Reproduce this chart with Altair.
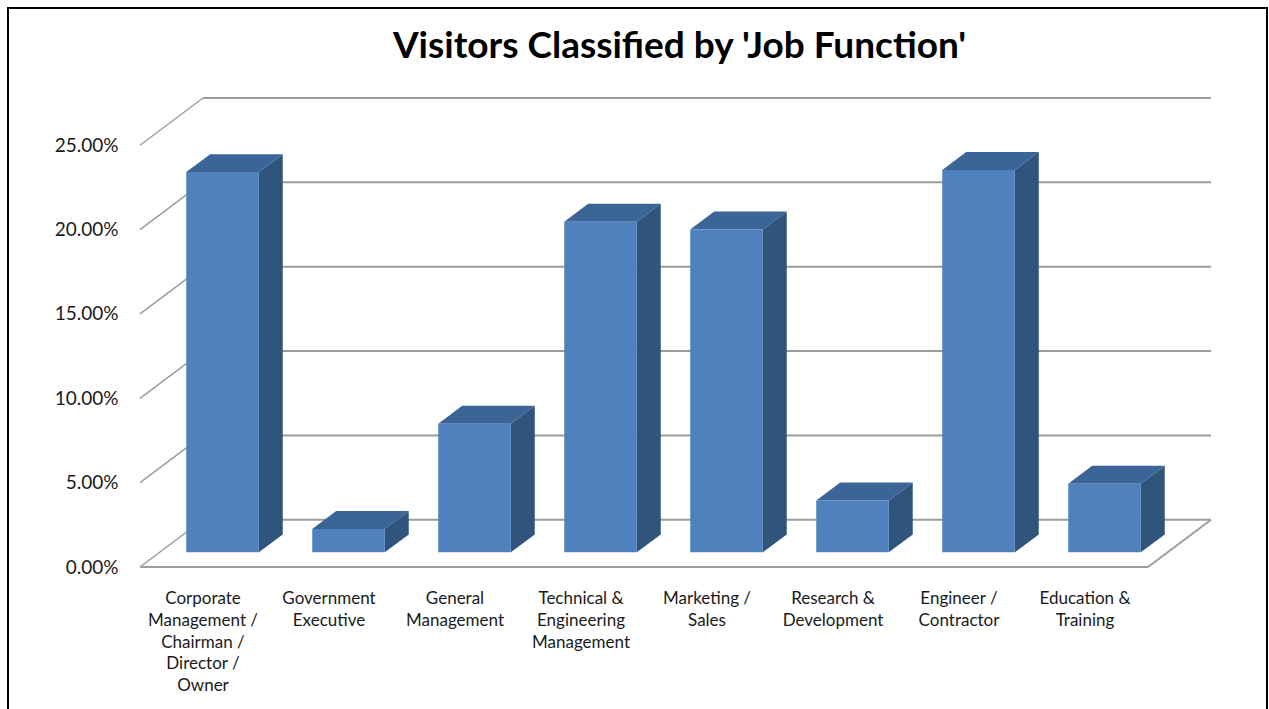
import altair as alt
import pandas as pd

# ---- data ----
categories = [
    "Corporate\nManagement /\nChairman /\nDirector /\nOwner",
    "Government\nExecutive",
    "General\nManagement",
    "Technical &\nEngineering\nManagement",
    "Marketing /\nSales",
    "Research &\nDevelopment",
    "Engineer /\nContractor",
    "Education &\nTraining",
]
shares = [22.54, 1.39, 7.62, 19.60, 19.14, 3.08, 22.66, 4.07]  # percent
tick_values = [0, 5, 10, 15, 20, 25]

# ---- pseudo-3D styling constants ----
DEPTH_X = 0.5      # depth of the floor in category-slot units
DEPTH_Y = 2.8      # depth of the floor in percent units
F0, F1 = 0.31, 0.69  # bar front / back position inside the depth
BAR_W = 0.576      # bar width as a fraction of a slot
FRONT = "#4F81BD"
SIDE = "#31547D"
TOP = "#3B6596"
GRID = "#9c9c9c"
FONT = "Lato"

N = len(categories)
x_scale = alt.Scale(domain=[0, N + DEPTH_X], nice=False, zero=False)
y_scale = alt.Scale(domain=[0, 25 + DEPTH_Y], nice=False, zero=False)

ddx = (F1 - F0) * DEPTH_X
ddy = (F1 - F0) * DEPTH_Y
front_rows, side_rows, top_rows, label_rows = [], [], [], []
for i, (c, v) in enumerate(zip(categories, shares)):
    left = i + 0.5 - BAR_W / 2 + F0 * DEPTH_X
    right = left + BAR_W
    base = F0 * DEPTH_Y
    t = base + v
    front_rows.append(dict(bar=i, x=left, x2=right, y=base, y2=t))
    side_rows += [
        dict(bar=i, x=right, lo=base, hi=t),
        dict(bar=i, x=right + ddx, lo=base + ddy, hi=t + ddy),
    ]
    top_rows += [
        dict(bar=i, x=left, lo=t, hi=t),
        dict(bar=i, x=left + ddx, lo=t, hi=t + ddy),
        dict(bar=i, x=right, lo=t, hi=t + ddy),
        dict(bar=i, x=right + ddx, lo=t + ddy, hi=t + ddy),
    ]
    label_rows.append(dict(x=i + 0.5, y=0, label=c))

back_rows = [dict(x=DEPTH_X, x2=N + DEPTH_X, y=v + DEPTH_Y) for v in tick_values]
diag_rows = [dict(x=0, x2=DEPTH_X, y=v, y2=v + DEPTH_Y) for v in tick_values]
floor_rows = [dict(x=0, x2=N, y=0, y2=0), dict(x=N, x2=N + DEPTH_X, y=0, y2=DEPTH_Y)]

Y_AXIS = alt.Axis(
    values=tick_values,
    labelExpr="format(datum.value, '.2f') + '%'",
    domain=False, ticks=False, grid=False, title=None,
    labelPadding=22, labelFontSize=19, labelFont=FONT, labelColor="#1a1a1a",
)
X = lambda f: alt.X(f, scale=x_scale, axis=None)
Y = lambda f: alt.Y(f, scale=y_scale, axis=Y_AXIS, stack=None)

back = alt.Chart(pd.DataFrame(back_rows)).mark_rule(color=GRID, strokeWidth=2).encode(
    x=X("x:Q"), x2="x2:Q", y=Y("y:Q")
)
diag = alt.Chart(pd.DataFrame(diag_rows)).mark_rule(color=GRID, strokeWidth=1.5).encode(
    x=X("x:Q"), x2="x2:Q", y=Y("y:Q"), y2="y2:Q"
)
floor = alt.Chart(pd.DataFrame(floor_rows)).mark_rule(color=GRID, strokeWidth=2).encode(
    x=X("x:Q"), x2="x2:Q", y=Y("y:Q"), y2="y2:Q"
)
side = alt.Chart(pd.DataFrame(side_rows)).mark_area(color=SIDE, interpolate="linear").encode(
    x=X("x:Q"), y=Y("hi:Q"), y2="lo:Q", detail="bar:N"
)
top = alt.Chart(pd.DataFrame(top_rows)).mark_area(color=TOP, interpolate="linear").encode(
    x=X("x:Q"), y=Y("hi:Q"), y2="lo:Q", detail="bar:N"
)
front = alt.Chart(pd.DataFrame(front_rows)).mark_rect(color=FRONT).encode(
    x=X("x:Q"), x2="x2:Q", y=Y("y:Q"), y2="y2:Q"
)
labels = alt.Chart(pd.DataFrame(label_rows)).mark_text(
    lineBreak="\n", baseline="top", align="center", dy=24,
    fontSize=17, font=FONT, color="#1a1a1a", lineHeight=21.8,
).encode(x=X("x:Q"), y=Y("y:Q"), text="label:N")

frame = alt.Chart(pd.DataFrame({"k": [0]})).mark_rect(
    fill="transparent", stroke="black", strokeWidth=2
).encode(x=alt.value(-132), x2=alt.value(1127), y=alt.value(-90), y2=alt.value(640))

chart = alt.layer(back, diag, floor, side, top, front, labels, frame).properties(
    width=1071,
    height=469,
    title=alt.Title(
        "Visitors Classified by 'Job Function'",
        font=FONT, fontSize=37, fontWeight="bold", color="black",
        anchor="middle", frame="group", baseline="alphabetic", offset=-88, dx=4,
    ),
    autosize=alt.AutoSizeParams(type="none"),
    padding={"left": 140, "top": 98, "right": 58, "bottom": 142},
    background="white",
).configure_view(stroke=None)

chart.save("out.html", embed_options={"renderer": "svg", "actions": False})
